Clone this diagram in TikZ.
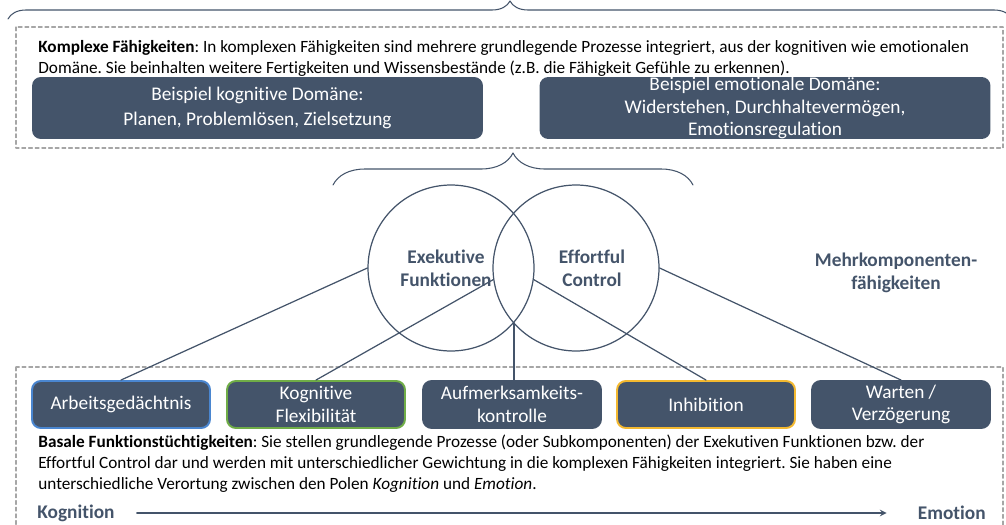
\documentclass[tikz,border=0pt]{standalone}
\usepackage{fontspec}
\setmainfont{Carlito}[Ligatures=NoCommon]
\usetikzlibrary{decorations.pathreplacing}
\definecolor{slate}{HTML}{44546A}
\definecolor{framegray}{HTML}{A6A6A6}
\definecolor{agblue}{HTML}{4A86D0}
\definecolor{kfgreen}{HTML}{70AD47}
\definecolor{ihgold}{HTML}{F4B930}
\frenchspacing
\begin{document}
\begin{tikzpicture}[x=0.02cm,y=-0.02cm,line join=round,line cap=round,>=stealth]
\tikzset{every node/.style={inner sep=0pt},
	dashframe/.style={draw=framegray,dashed,dash pattern=on 2.2pt off 1.6pt,line width=0.6pt},
	bracepath/.style={draw=slate,line width=0.6pt,decorate,decoration={brace,amplitude=#1}},
	para/.style={align=left,font=\fontsize{9.8}{11.7}\selectfont},
	domainbox/.style={fill=slate,rounded corners=5pt,text=white,align=center,minimum width=9.02cm,minimum height=1.24cm,font=\fontsize{11}{12.6}\selectfont},
	basal/.style={fill=slate,rounded corners=5pt,text=white,align=center,line width=1.1pt,minimum width=3.56cm,minimum height=0.94cm,font=\fontsize{11}{13}\selectfont},
	circ/.style={draw=slate,line width=0.7pt,circle,minimum size=3.32cm},
	head/.style={text=slate,align=center,font=\fontsize{11}{13}\selectfont\bfseries},
	link/.style={draw=slate,line width=0.7pt}}
\clip (0,0) rectangle (1006,524);
\draw[bracepath=0.36cm] (8,19)--(1012,19);
\draw[dashframe] (16,27) rectangle (1003,148);
\node[para,anchor=base west] (kt) at (38,73) {\textbf{Komplexe Fähigkeiten}: In komplexen Fähigkeiten sind mehrere grundlegende Prozesse integriert, aus der kognitiven wie emotionalen\\Domäne. Sie beinhalten weitere Fertigkeiten und Wissensbestände (z.B. die Fähigkeit Gefühle zu erkennen).};
\node[domainbox] (kd) at (257.5,108) {Beispiel kognitive Domäne:\\[1.2pt]Planen, Problemlösen, Zielsetzung};
\node[domainbox] (ed) at (765,108) {Beispiel emotionale Domäne:\\Widerstehen, Durchhaltevermögen,\\Emotionsregulation};
\draw[bracepath=0.64cm] (333,185)--(693,185);
\node[circ] (ef) at (451,268) {};
\node[circ] (ec) at (576,268) {};
\node[head] (eft) at (446,268) {Exekutive\\Funktionen};
\node[head] (ect) at (592,268) {Effortful\\Control};
\node[head] (mk) at (896,273) {Mehrkomponenten-\\fähigkeiten};
\draw[dashframe] (16,367) rectangle (1003,540);
\foreach \x/\nm/\col/\txt in {121/ag/agblue/Arbeitsgedächtnis,316/kf/kfgreen/{Kognitive\\Flexibilität},512/ak/slate/{Aufmerksamkeits-\\kontrolle},706/ih/ihgold/Inhibition,901/wv/slate/{Warten /\\Verzögerung}}
	\node[basal,draw=\col] (\nm) at (\x,404.5) {\txt};
\draw[link] (ef.west)--(ag.north);
\draw[link] (ec.188)--(kf.north);
\draw[link] (ef.-41)--(ef.-41 |- ak.north);
\draw[link] (ef.-8)--(ih.north);
\draw[link] (ec.east)--(wv.north);
\node[para,anchor=base west] (bt) at (38,489) {\textbf{Basale Funktionstüchtigkeiten}: Sie stellen grundlegende Prozesse (oder Subkomponenten) der Exekutiven Funktionen bzw. der\\Effortful Control dar und werden mit unterschiedlicher Gewichtung in die komplexen Fähigkeiten integriert. Sie haben eine\\unterschiedliche Verortung zwischen den Polen \textit{Kognition} und \textit{Emotion}.};
\node[head,anchor=west] (kog) at (37,513) {Kognition};
\node[head,anchor=east] (emo) at (986,513) {Emotion};
\draw[link,->,shorten <=0.44cm,shorten >=0.62cm] (kog)--(emo);
\end{tikzpicture}
\end{document}
